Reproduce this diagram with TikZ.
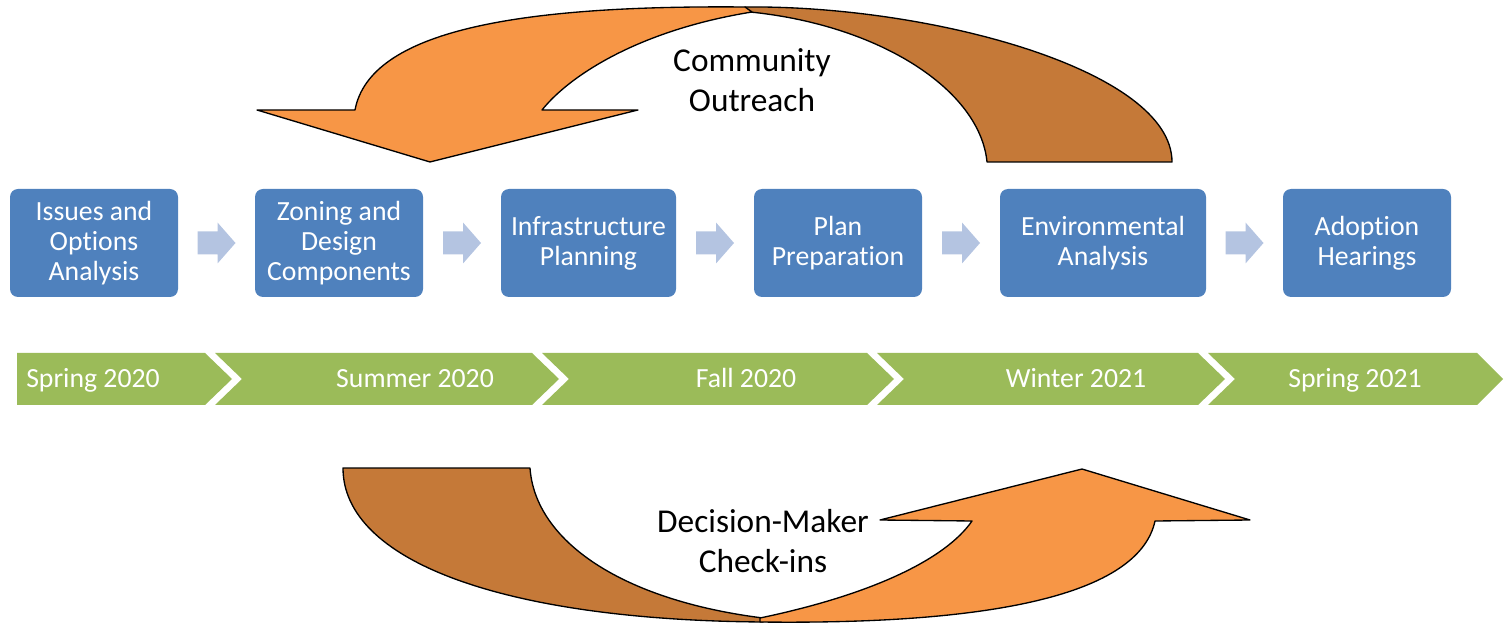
\documentclass[tikz,border=0pt]{standalone}
\usepackage{fontspec}
\setmainfont{Carlito}[Ligatures=NoCommon]
\usetikzlibrary{calc}

\definecolor{boxblue}{RGB}{79,129,189}
\definecolor{stepgrey}{RGB}{180,196,225}
\definecolor{bandgreen}{RGB}{155,187,89}
\definecolor{orangelight}{RGB}{247,150,70}
\definecolor{orangedark}{RGB}{197,121,56}

\begin{document}
\begin{tikzpicture}[
  x=0.75pt, y=-0.75pt,
  stepbox/.style={fill=boxblue, rounded corners=6pt, text=white, align=center,
    inner sep=0pt, minimum height=81pt,
    font=\fontsize{20.8}{22.5}\selectfont},
  stepfill/.style={fill=stepgrey},
  bandseg/.style={fill=bandgreen},
  bandlabel/.style={text=white, inner sep=0pt, anchor=base,
    font=\fontsize{20.8}{22.5}\selectfont},
  ribbonlight/.style={fill=orangelight, draw=black, line width=1pt, line join=round},
  ribbondark/.style={fill=orangedark, draw=black, line width=1pt, line join=round},
  looplabel/.style={align=center, inner sep=0pt, font=\fontsize{25}{30}\selectfont}
]
\useasboundingbox (0,0) rectangle (1510,623);

% ---------- community outreach loop (top) ----------
% back half of the ribbon
\path[ribbondark]
  (745,7) .. controls (930,5) and (1172,70) .. (1172,162)
  -- (987,162)
  .. controls (980,90) and (880,25) .. (750,12)
  -- cycle;
% front half with the arrowhead
\path[ribbonlight]
  (355,110) .. controls (370,30) and (520,5) .. (745,7)
  -- (752,12)
  .. controls (640,30) and (570,75) .. (542,110)
  -- (638,110) -- (430,162) -- (257,110) -- cycle;
\node[looplabel] (outreach) at (752,80) {Community\\Outreach};

% ---------- process steps ----------
\node[stepbox, minimum width=126pt]    (b1) at (94,243)    {Issues and\\Options\\Analysis};
\node[stepbox, minimum width=126pt]    (b2) at (339,243)   {Zoning and\\Design\\Components};
\node[stepbox, minimum width=131.25pt] (b3) at (588.5,243) {Infrastructure\\Planning};
\node[stepbox, minimum width=126pt]    (b4) at (838,243)   {Plan\\Preparation};
\node[stepbox, minimum width=154.5pt]  (b5) at (1103,243)  {Environmental\\Analysis};
\node[stepbox, minimum width=126pt]    (b6) at (1367,243)  {Adoption\\Hearings};

\foreach \a/\b in {b1/b2, b2/b3, b3/b4, b4/b5, b5/b6}
  \fill[stepfill] ($(\a.east)!0.5!(\b.west)$) ++(-19,-11.5) -- ++(20,0) -- ++(0,-9)
    -- ++(18,20.5) -- ++(-18,20.5) -- ++(0,-9) -- ++(-20,0) -- cycle;

% ---------- timeline band ----------
\fill[bandseg] (17,353) -- (205,353) -- (232,379) -- (205,405) -- (17,405) -- cycle;
\fill[bandseg] (215,353) -- (532,353) -- (559,379) -- (532,405) -- (215,405) -- (242,379) -- cycle;
\fill[bandseg] (542,353) -- (867,353) -- (894,379) -- (867,405) -- (542,405) -- (569,379) -- cycle;
\fill[bandseg] (877,353) -- (1198,353) -- (1225,379) -- (1198,405) -- (877,405) -- (904,379) -- cycle;
\fill[bandseg] (1208,353) -- (1477,353) -- (1503,379) -- (1477,405) -- (1208,405) -- (1235,379) -- cycle;

\node[bandlabel] (t1) at (93,388)   {Spring 2020};
\node[bandlabel] (t2) at (415,388)  {Summer 2020};
\node[bandlabel] (t3) at (746,388)  {Fall 2020};
\node[bandlabel] (t4) at (1076,388) {Winter 2021};
\node[bandlabel] (t5) at (1355,388) {Spring 2021};

% ---------- decision-maker loop (bottom) ----------
% back half of the ribbon
\path[ribbondark]
  (343,468) -- (530,468)
  .. controls (535,540) and (620,600) .. (763,618)
  -- (763,622)
  .. controls (500,620) and (343,560) .. (343,468)
  -- cycle;
% front half with the arrowhead
\path[ribbonlight]
  (760,618) .. controls (870,595) and (945,560) .. (972,521)
  -- (880,520) -- (1082,469) -- (1250,520) -- (1155,521)
  .. controls (1140,590) and (1010,625) .. (760,622)
  -- cycle;
\node[looplabel] (checkins) at (763,541) {Decision-Maker\\Check-ins};

\end{tikzpicture}
\end{document}
